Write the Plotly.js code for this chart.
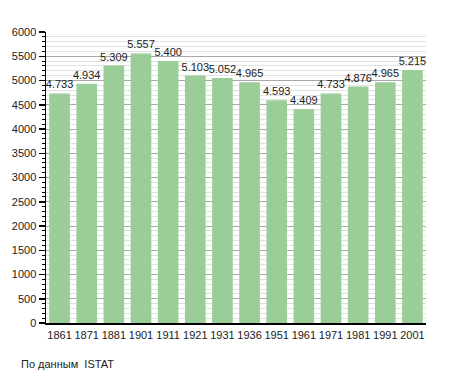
<!DOCTYPE html>
<html>
<head>
<meta charset="utf-8">
<script src="https://cdn.plot.ly/plotly-3.0.1.min.js"></script>
<style>html,body{margin:0;padding:0;background:#fff;}#chart{width:455px;height:373px;}</style>
</head>
<body>
<div id="chart"></div>
<script>
var years = ["1861","1871","1881","1901","1911","1921","1931","1936","1951","1961","1971","1981","1991","2001"];
var population = [4733,4934,5309,5557,5400,5103,5052,4965,4593,4409,4733,4876,4965,5215];
var yTicks = [0,500,1000,1500,2000,2500,3000,3500,4000,4500,5000,5500,6000];
var sourceNote = "По данным  ISTAT";

var trace = {
  type: "bar",
  x: years,
  y: population,
  marker: {color: "#9acd98", line: {width: 0}},
  texttemplate: "%{y:,}",
  textposition: "outside",
  constraintext: "none",
  textfont: {family: "Liberation Sans, Arial, sans-serif", size: 11, color: "#222"},
  cliponaxis: false,
  hoverinfo: "x+y"
};

var layout = {
  width: 455, height: 373,
  margin: {l: 46, r: 29, t: 32, b: 50, pad: 0},
  paper_bgcolor: "#fff", plot_bgcolor: "#fff",
  separators: ",.",
  bargap: 0.24,
  showlegend: false,
  font: {family: "Liberation Sans, Arial, sans-serif", size: 11, color: "#222"},
  xaxis: {
    type: "category",
    showline: true, linecolor: "#000", linewidth: 1.5,
    ticks: "", showgrid: false,
    tickfont: {size: 11, color: "#222"},
    ticklabelstandoff: 1
  },
  yaxis: {
    range: [0, 6000],
    tickvals: yTicks,
    ticktext: yTicks.map(String),
    showline: true, linecolor: "#000", linewidth: 1.5,
    ticks: "outside", ticklen: 6, tickcolor: "#000", tickwidth: 1.5,
    showgrid: true, gridcolor: "#a8a8a8", gridwidth: 1,
    zeroline: false,
    tickfont: {size: 11, color: "#222"},
    minor: {dtick: 100, ticks: "outside", ticklen: 3, tickcolor: "#000", tickwidth: 1, showgrid: true, gridcolor: "#e2e2e2", gridwidth: 1}
  },
  annotations: [{
    text: sourceNote, xref: "paper", yref: "paper",
    x: -0.072, y: -0.115, xanchor: "left", yanchor: "top",
    showarrow: false, font: {size: 11, color: "#222"}
  }]
};

Plotly.newPlot("chart", [trace], layout, {staticPlot: true, displayModeBar: false});
</script>
</body>
</html>
